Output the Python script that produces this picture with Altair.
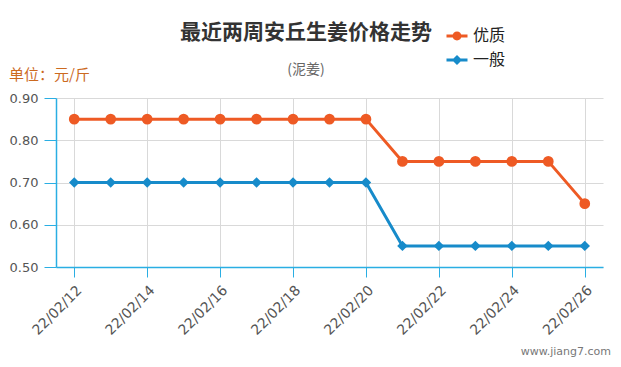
import altair as alt
import pandas as pd

dates = ["22/02/12", "22/02/13", "22/02/14", "22/02/15", "22/02/16", "22/02/17", "22/02/18",
         "22/02/19", "22/02/20", "22/02/21", "22/02/22", "22/02/23", "22/02/24", "22/02/25", "22/02/26"]
youzhi = [0.85, 0.85, 0.85, 0.85, 0.85, 0.85, 0.85, 0.85, 0.85, 0.75, 0.75, 0.75, 0.75, 0.75, 0.65]
yiban = [0.70, 0.70, 0.70, 0.70, 0.70, 0.70, 0.70, 0.70, 0.70, 0.55, 0.55, 0.55, 0.55, 0.55, 0.55]
grades = ["优质", "一般"]
colors = ["#ee5a24", "#178bca"]
y_ticks = [0.5, 0.6, 0.7, 0.8, 0.9]
x_ticks = dates[::2]

title_text = "最近两周安丘生姜价格走势"
subtitle_text = "(泥姜)"
unit_text = "单位：元/斤"
watermark_text = "www.jiang7.com"

rows = []
for d, a, b in zip(dates, youzhi, yiban):
    rows.append({"date": d, "price": a, "grade": grades[0]})
    rows.append({"date": d, "price": b, "grade": grades[1]})
df = pd.DataFrame(rows)

AXIS_BLUE = "#2aaee3"
CJK = "Noto Sans CJK SC"
NUM = "DejaVu Sans"

x_enc = alt.X("date:O", scale=alt.Scale(type="point", domain=dates, padding=0.5),
              axis=alt.Axis(values=x_ticks, labelAngle=-45, title=None, grid=True,
                            gridColor="#d9d9d9", domainColor=AXIS_BLUE, tickColor=AXIS_BLUE,
                            tickSize=10, labelColor="#555", labelFont=NUM, labelFontSize=14,
                            labelPadding=6, domainWidth=1.5))
y_enc = alt.Y("price:Q", scale=alt.Scale(domain=[0.5, 0.9], zero=False, nice=False),
              axis=alt.Axis(values=y_ticks, format=".2f", title=None, grid=True,
                            gridColor="#d9d9d9", domainColor=AXIS_BLUE, tickColor=AXIS_BLUE,
                            tickSize=12, labelColor="#555", labelFont=NUM, labelFontSize=13,
                            labelPadding=6, domainWidth=1.5))
color_scale = alt.Scale(domain=grades, range=colors)

base = alt.Chart(df)
lines = base.mark_line(strokeWidth=3).encode(
    x=x_enc, y=y_enc,
    color=alt.Color("grade:N", scale=color_scale, legend=None),
    detail="grade:N",
)
points_a = base.transform_filter(alt.datum.grade == grades[0]).mark_point(
    filled=True, opacity=1, shape="circle", size=115
).encode(x=x_enc, y=y_enc, color=alt.Color("grade:N", scale=color_scale, legend=None))
points_b = base.transform_filter(alt.datum.grade == grades[1]).mark_point(
    filled=True, opacity=1, shape="diamond", size=110
).encode(x=x_enc, y=y_enc, color=alt.Color("grade:N", scale=color_scale, legend=None))

circle_line = ("M-1.5,-0.21 H1.5 V0.21 H-1.5 Z "
               "M-0.64,0 A0.64,0.64 0 1,1 0.64,0 A0.64,0.64 0 1,1 -0.64,0 Z")
diamond_line = ("M-1.5,-0.21 H1.5 V0.21 H-1.5 Z "
                "M0,-0.72 L0.72,0 L0,0.72 L-0.72,0 Z")

leg = alt.Legend(orient="none", legendX=393, legendY=-70, title=None,
                 symbolSize=196, symbolOpacity=1, symbolStrokeWidth=0,
                 labelFont=CJK, labelFontSize=16, labelColor="#222",
                 labelOffset=8, rowPadding=8)

legend_df = pd.DataFrame({"grade_l": grades})
legend_layer = alt.Chart(legend_df).mark_point(filled=True, opacity=0).encode(
    fill=alt.Fill("grade_l:N", sort=grades, scale=alt.Scale(domain=grades, range=colors), legend=leg),
    shape=alt.Shape("grade_l:N", sort=grades,
                    scale=alt.Scale(domain=grades, range=[circle_line, diamond_line]),
                    legend=leg),
)

def text_layer(txt, x, y, size, color, weight="normal", align="center", font=CJK):
    return alt.Chart(pd.DataFrame({"t": [txt]})).mark_text(
        fontSize=size, fontWeight=weight, color=color, align=align, baseline="middle", font=font
    ).encode(text="t:N", x=alt.value(x), y=alt.value(y))

title = text_layer(title_text, 250, -65, 21, "#333", weight="bold")
subtitle = text_layer(subtitle_text, 250, -28, 14, "#666")
unit = text_layer(unit_text, -47, -23, 15, "#cc6a1f", align="left")
watermark = text_layer(watermark_text, 555, 254, 11, "#777", align="right", font="DejaVu Sans")

chart = alt.layer(lines, points_a, points_b, legend_layer, title, subtitle, unit, watermark).resolve_scale(
    shape="independent", fill="independent"
).properties(
    width=547, height=169,
    autosize=alt.AutoSizeParams(type="none"),
    padding={"left": 48, "top": 90, "right": 10, "bottom": 92},
).configure_view(strokeWidth=0)

chart.save("out.html", embed_options={"renderer": "svg", "actions": False})
